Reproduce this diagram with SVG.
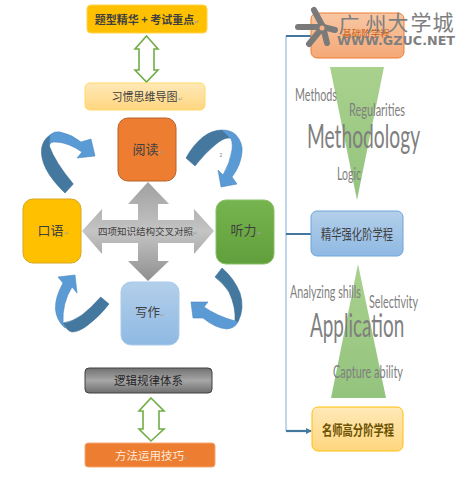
<svg xmlns="http://www.w3.org/2000/svg" width="461" height="482" viewBox="0 0 461 482">
<style>
text{font-family:"Noto Sans CJK SC","Liberation Sans",sans-serif;text-anchor:middle}
.cn{font-size:12px;fill:#404040}
.mk{font-size:6px;fill:#a0a0a0}
.en{font-family:Lato,"Liberation Sans",sans-serif;fill:#7f7f7f;text-anchor:start}
.dbl{fill:#fff;stroke:#70ad47;stroke-width:1.6}
.dk{fill:#44789f;stroke:#3c6f96;stroke-width:.6}
.lt{fill:#5b9bd5;stroke:#4b88bf;stroke-width:.6}
.wm{fill:#7f7f7f;font-size:21px}
</style>
<defs>
<linearGradient id="gY" x1="0" y1="0" x2="0" y2="1"><stop offset="0" stop-color="#ffe9b8"/><stop offset="1" stop-color="#ffd67f"/></linearGradient>
<linearGradient id="gO" x1="0" y1="0" x2="0" y2="1"><stop offset="0" stop-color="#f8c7a4"/><stop offset="1" stop-color="#f4a877"/></linearGradient>
<linearGradient id="gB" x1="0" y1="0" x2="0" y2="1"><stop offset="0" stop-color="#b3cfea"/><stop offset="1" stop-color="#8fb9e3"/></linearGradient>
<linearGradient id="gG" x1="0" y1="0" x2="0" y2="1"><stop offset="0" stop-color="#717171"/><stop offset=".5" stop-color="#a6a6a6"/><stop offset="1" stop-color="#6e6e6e"/></linearGradient>
<linearGradient id="gC" x1="0" y1="0" x2="0" y2="1"><stop offset="0" stop-color="#a0a0a0"/><stop offset=".5" stop-color="#c4c4c4"/><stop offset="1" stop-color="#8f8f8f"/></linearGradient>
<linearGradient id="gT" x1="0" y1="0" x2="0" y2="1"><stop offset="0" stop-color="#a9d18e"/><stop offset="1" stop-color="#93c47d"/></linearGradient>
<linearGradient id="gGr" x1="0" y1="0" x2="0" y2="1"><stop offset="0" stop-color="#76b44f"/><stop offset="1" stop-color="#619f3c"/></linearGradient>
<marker id="ah" markerWidth="6" markerHeight="6" refX="5" refY="3" orient="auto" markerUnits="userSpaceOnUse"><path d="M0,0L6,3L0,6Z" fill="#44789f"/></marker>
</defs>

<g id="connectors">
<path d="M286,36V431" fill="none" stroke="#a9c8e6" stroke-width="1.5"/>
<path d="M286,36H311M286,234H311" fill="none" stroke="#44789f" stroke-width="2.2"/>
<path d="M286,431H311" fill="none" stroke="#44789f" stroke-width="2.2" marker-end="url(#ah)"/>
<path class="dbl" d="M146.500,36L158,49H154V70H158L146.500,82L135,70H139V49H135Z"/>
<path class="dbl" d="M151,398L164,411H159V429H164L151,441L139,429H143V411H139Z"/>
<path id="arrow-oral-read" class="dk" d="M65,193Q39,168 41.700,148Q43,140 50,135L58,142Q49,140 49.300,146Q55,162 73.300,184Z"/>
<path class="lt" d="M50,135Q54,131 60,132Q71,134 81,142L91,139L95,156L77,158L82,152Q69,143 57,142Q50,141 49.300,146Z"/>
<path id="arrow-read-listen" class="dk" d="M186,158Q193,145 203,137Q212,130 222,130L230,138Q224,137 215,145Q205,153 195,166Z"/>
<path class="lt" d="M222,130Q231,130 236,135Q243,143 242,152Q241,165 232,177L237,184L221,187L218,170L223,175Q230,163 232,150Q233,140 230,138Z"/>
<path id="arrow-write-oral" class="dk" d="M100.700,297L109,304Q100,316 88,325Q79,332 72,332Q67,331 63,323Q72,322 82,315Q92,307 100.700,297Z"/>
<path class="lt" d="M65,328Q47,312 63,283L58,277L75,275L77,293L72,287Q62,303 63,323Z"/>
<path id="arrow-listen-write" class="dk" d="M215,277L222,268Q234,278 240,293Q245,308 238,322L235,321Q236,307 229,292Q224,284 215,277Z"/>
<path class="lt" d="M235,321L238,322Q235,328 227,329Q215,328 203,318L193,318L191,302L208,302L204,307Q217,316 235,321Z"/>
</g>

<g id="node-exam"><rect x="87" y="5" width="120" height="28" rx="4" fill="#ffc000" stroke="#ffd24d"/><text class="cn" x="147" y="24" style="font-size:11px" font-weight="bold">题型精华 + 考试重点<tspan class="mk">↵</tspan></text></g>
<g id="node-mindmap"><rect x="85" y="83" width="120" height="27" rx="5" fill="url(#gY)" stroke="#ffd966"/><text class="cn" x="147" y="101" style="font-size:11px">习惯思维导图<tspan class="mk">↵</tspan></text></g>
<g id="node-read"><rect x="118" y="118" width="58" height="63" rx="10" fill="#ed7d31" stroke="#b9622a"/><text class="cn" x="148" y="154" style="font-size:13px">阅读<tspan class="mk">↵</tspan></text></g>
<g id="node-oral"><rect x="23" y="199" width="58" height="64" rx="10" fill="#ffc000" stroke="#d6a520"/><text class="cn" x="53" y="235" style="font-size:13px">口语<tspan class="mk">↵</tspan></text></g>
<g id="node-listen"><rect x="216" y="200" width="58" height="64" rx="10" fill="url(#gGr)" stroke="#8bc068"/><text class="cn" x="246" y="235" style="font-size:13px">听力<tspan class="mk">↵</tspan></text></g>
<g id="node-write"><rect x="121" y="282" width="58" height="63" rx="10" fill="url(#gB)" stroke="#a9cbea"/><text class="cn" x="150" y="317" style="font-size:12.500px">写作<tspan class="mk">↵</tspan></text></g>
<g id="node-cross"><path d="M148,182L169,204H158V220H194V209L214,231L194,254V243H158V261H169L148,281L128,261H138V243H102V254L82,231L102,209V220H138V204H128Z" fill="url(#gC)"/><text class="cn" x="148" y="235" style="font-size:9.500px">四项知识结构交叉对照<tspan class="mk">↵</tspan></text></g>
<text x="221" y="157" style="font-size:5px;fill:#8a8a8a">2</text>
<g id="node-logic"><rect x="85" y="368" width="127" height="25" rx="4" fill="url(#gG)" stroke="#404040"/><text class="cn" x="151" y="385" style="font-size:11.500px;fill:#262626">逻辑规律体系<tspan class="mk">↵</tspan></text></g>
<g id="node-method"><rect x="85" y="443" width="130" height="24" rx="3" fill="#ed7d31" stroke="#f4a877"/><text class="cn" x="152" y="460" style="font-size:11.500px;fill:#fde9d9">方法运用技巧<tspan class="mk">↵</tspan></text></g>

<g id="node-basic"><rect x="311" y="13" width="93" height="45" rx="6" fill="url(#gO)" stroke="#ed7d31"/><text x="366" y="37" style="font-size:9.500px;fill:#c55a11">基础阶学程</text></g>
<g id="node-intensive"><rect x="311" y="211" width="92" height="45" rx="6" fill="url(#gB)" stroke="#6fa5d8"/><text x="357" y="239" textLength="72" lengthAdjust="spacingAndGlyphs" style="font-size:14px;fill:#404040">精华强化阶学程</text></g>
<g id="node-master"><rect x="312" y="407" width="91" height="44" rx="6" fill="url(#gY)" stroke="#ffc000"/><text x="358" y="435" textLength="72" lengthAdjust="spacingAndGlyphs" style="font-size:14px;font-weight:bold;fill:#6b5200">名师高分阶学程</text></g>

<g id="node-methodology">
<path d="M330,67H384L357,200Z" fill="url(#gT)"/>
<text class="en" x="295" y="101" textLength="42" lengthAdjust="spacingAndGlyphs" style="font-size:18px">Methods</text>
<text class="en" x="349" y="116" textLength="56" lengthAdjust="spacingAndGlyphs" style="font-size:18px">Regularities</text>
<text class="en" transform="translate(307,148) scale(.635,1)" textLength="178" lengthAdjust="spacingAndGlyphs" style="font-size:33px">Methodology</text>
<text class="en" x="337" y="180" textLength="24" lengthAdjust="spacingAndGlyphs" style="font-size:17px">Logic</text>
</g>
<g id="node-application">
<path d="M358,264L386,398H331Z" fill="url(#gT)"/>
<text class="en" x="290" y="298" textLength="71" lengthAdjust="spacingAndGlyphs" style="font-size:17px">Analyzing shills</text>
<text class="en" x="369" y="308" textLength="49" lengthAdjust="spacingAndGlyphs" style="font-size:17px">Selectivity</text>
<text class="en" transform="translate(310,337) scale(.6,1)" textLength="157" lengthAdjust="spacingAndGlyphs" style="font-size:33px">Application</text>
<text class="en" x="333" y="378" textLength="70" lengthAdjust="spacingAndGlyphs" style="font-size:18px">Capture ability</text>
</g>

<g id="watermark">
<path d="M323,27L314,10M323,27L298,27M323,27L309,44M323,27L327,43M323,27L335,30" fill="none" stroke="#7a7a7a" stroke-width="6" stroke-linecap="round"/>
<circle cx="322" cy="28" r="5" fill="#7a7a7a"/><circle cx="322" cy="28" r="2.500" fill="#f4b183"/>
<text class="wm" x="349" y="32">广</text><text class="wm" x="376" y="32">州</text><text class="wm" x="398" y="30">大</text><text class="wm" x="421" y="30">学</text><text class="wm" x="443" y="30">城</text>
<text x="396" y="45" textLength="118" lengthAdjust="spacingAndGlyphs" style="font-family:'DejaVu Sans',sans-serif;font-size:13px;font-weight:bold;fill:#7f7f7f">WWW.GZUC.NET</text>
</g>
</svg>
